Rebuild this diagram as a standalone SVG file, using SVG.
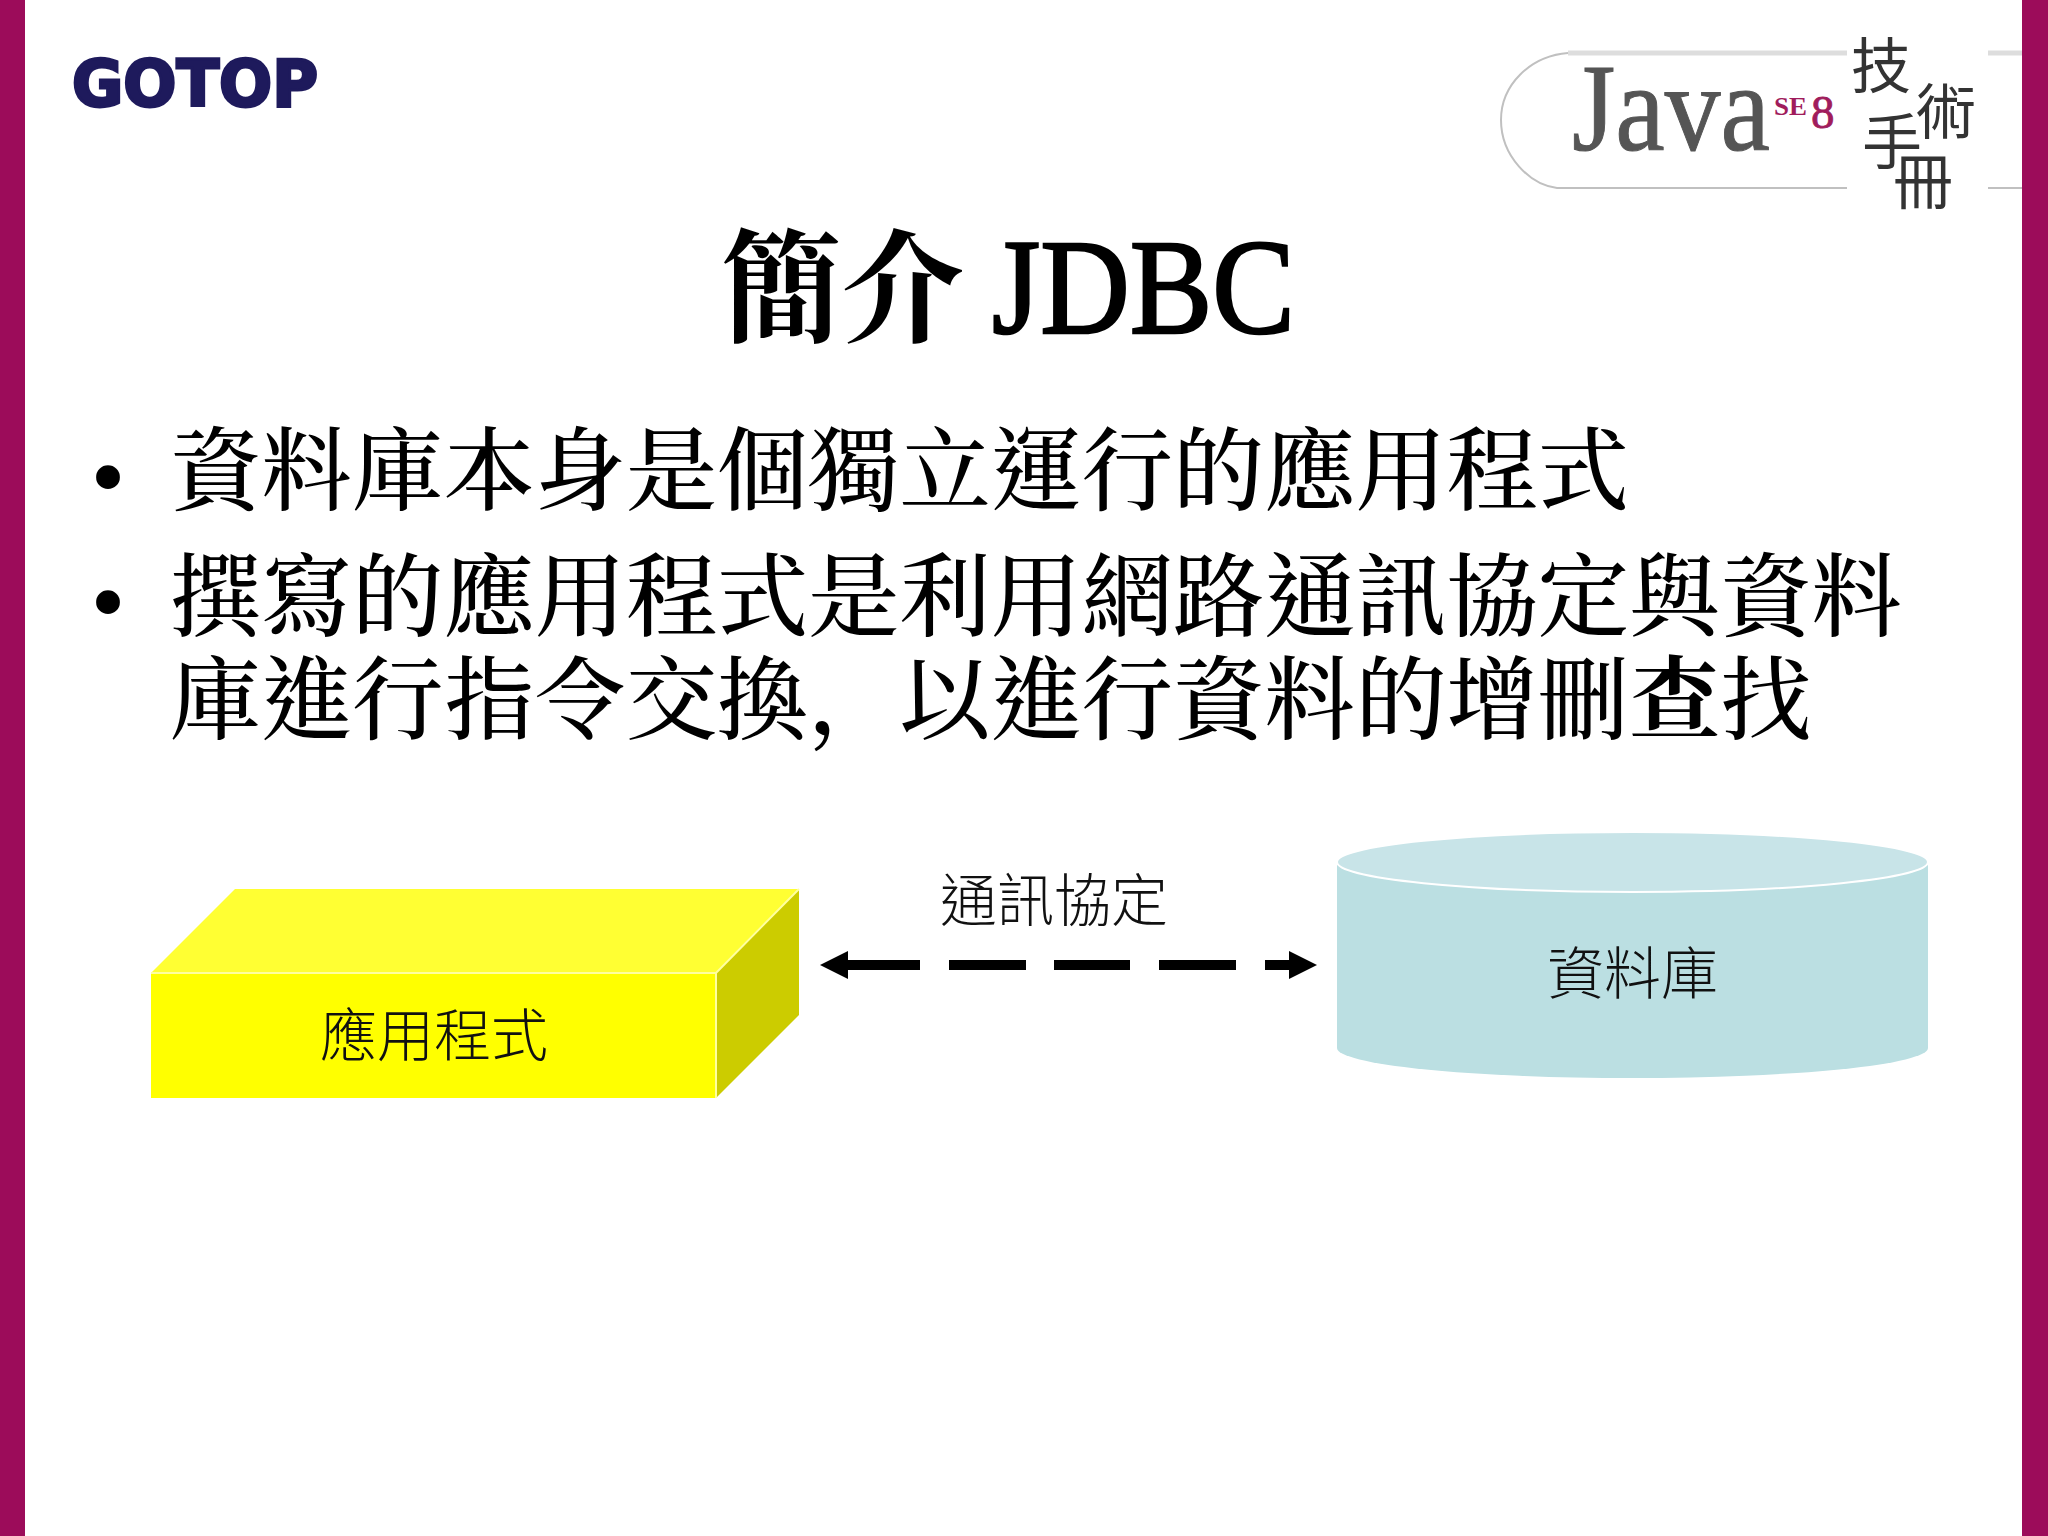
<svg xmlns="http://www.w3.org/2000/svg" width="2048" height="1536" viewBox="0 0 2048 1536">
<style>
.serif{font-family:"Noto Serif CJK TC","Liberation Serif","Noto Sans CJK TC",serif}
.body{font-size:91.2px;font-weight:500;fill:#000}
.lab{font-family:"Noto Sans CJK TC","Noto Sans CJK JP",sans-serif;font-weight:300;font-size:57px;fill:#111}
.hand{font-family:"Noto Sans CJK TC",sans-serif;font-weight:400;font-size:60px;fill:#333;text-anchor:middle}
.blt{font-family:"Liberation Serif",serif;font-size:100px;text-anchor:middle}
</style>
<defs>
<marker id="head" markerUnits="userSpaceOnUse" markerWidth="28" markerHeight="28" refX="0" refY="14" orient="auto-start-reverse"><path d="M0,0 L28,14 L0,28 z" fill="#000"/></marker>
</defs>
<rect width="2048" height="1536" fill="#fff"/>
<rect x="0" y="0" width="25" height="1536" fill="#9c0c5a"/>
<rect x="2022" y="0" width="26" height="1536" fill="#9c0c5a"/>
<g id="logo-gotop"><text x="72" y="106" font-family="DejaVu Sans" font-weight="700" font-size="64" fill="#1e1a5c" stroke="#1e1a5c" stroke-width="3" textLength="246" lengthAdjust="spacingAndGlyphs">GOTOP</text></g>
<g id="logo-java">
<path d="M1847 53 H1568" stroke="#ddd" stroke-width="5" fill="none"/>
<path d="M1988 53 H2022" stroke="#ddd" stroke-width="5" fill="none"/>
<path d="M1568 53 C1530 56 1501 85 1501 120 C1501 156 1530 185 1557 188 H1847 M1988 188 H2022" stroke="#c0c0c0" stroke-width="2" fill="none"/>
<text x="1572" y="150" font-family="Liberation Serif" font-size="124" fill="#555" stroke="#555" stroke-width="1" textLength="198" lengthAdjust="spacingAndGlyphs">Java</text>
<text x="1774" y="115" font-family="Liberation Serif" font-weight="700" font-size="26" fill="#a01c5c" textLength="33" lengthAdjust="spacingAndGlyphs">SE</text>
<text x="1811" y="128" font-family="Liberation Serif" font-size="47" fill="#a01c5c" stroke="#a01c5c" stroke-width="0.800">8</text>
<text class="hand" x="1881" y="88">技</text>
<text class="hand" x="1946" y="134">術</text>
<text class="hand" x="1892" y="164">手</text>
<text class="hand" x="1923" y="204">冊</text>
</g>
<g id="title">
<text class="serif" x="720" y="332" font-size="122" font-weight="700" fill="#000">簡介</text>
<text x="992" y="333" font-family="Liberation Serif" font-size="136" fill="#000" stroke="#000" stroke-width="2.500" textLength="303" lengthAdjust="spacingAndGlyphs">JDBC</text>
</g>
<g id="bullets">
<text class="blt" x="108" y="510">•</text>
<text class="serif body" x="170" y="503">資料庫本身是個獨立運行的應用程式</text>
<text class="blt" x="108" y="635">•</text>
<text class="serif body" x="170" y="629">撰寫的應用程式是利用網路通訊協定與資料</text>
<text class="serif body" x="170" y="732">庫進行指令交換<tspan font-family="Noto Serif CJK SC,serif">，</tspan>以進行資料的增刪<tspan font-weight="700">查</tspan>找</text>
</g>
<g id="app">
<polygon points="151,973 235,889 799,889 716,973" fill="#ffff33"/>
<polygon points="716,973 799,889 799,1015 716,1098" fill="#cccc00"/>
<rect x="151" y="973" width="565" height="125" fill="#ffff00"/>
<path d="M151 973 H716 L799 889 M716 973 V1098" stroke="#ffffa0" stroke-width="2" fill="none"/>
<text class="lab" x="320" y="1056">應用程式</text>
</g>
<g id="database">
<path d="M1337 863 V1048 A295.500 30 0 0 0 1928 1048 V863 z" fill="#bbdfe2"/>
<ellipse cx="1632.500" cy="862" rx="295.500" ry="30" fill="#c8e4e8" stroke="#fff" stroke-width="2"/>
<text class="lab" x="1547" y="994">資料庫</text>
</g>
<g id="connectors">
<line x1="848" y1="965" x2="1289" y2="965" stroke="#000" stroke-width="10" stroke-dasharray="72 29 77 28 76 29 77 29 30" marker-start="url(#head)" marker-end="url(#head)"/>
<text class="lab" x="940" y="921">通訊協定</text>
</g>
</svg>
